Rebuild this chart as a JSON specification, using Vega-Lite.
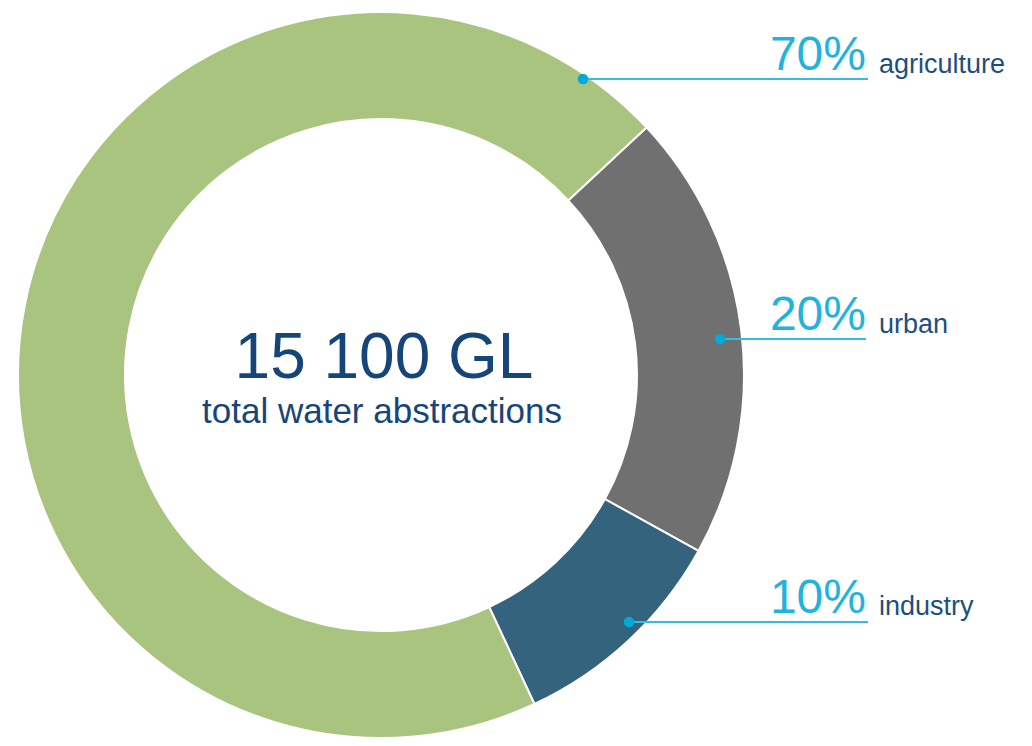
{
  "$schema": "https://vega.github.io/schema/vega-lite/v6.json",
  "width": 1032,
  "height": 746,
  "autosize": {"type": "fit", "contains": "padding"},
  "padding": 0,
  "background": "white",
  "view": {"stroke": null},
  "config": {"font": "Liberation Sans"},
  "datasets": {
    "slices": [
      {"use": "urban", "share": 20, "ord": 1, "cx": 381, "cy": 375},
      {"use": "industry", "share": 10, "ord": 2, "cx": 381, "cy": 375},
      {"use": "agriculture", "share": 70, "ord": 3, "cx": 381, "cy": 375}
    ],
    "labels": [
      {"use": "agriculture", "pct": "70%", "dotx": 583, "liney": 79, "lineend": 868, "pctx": 866, "pcty": 70, "namex": 879, "namey": 73},
      {"use": "urban", "pct": "20%", "dotx": 720, "liney": 339, "lineend": 866, "pctx": 866, "pcty": 330, "namex": 879, "namey": 333},
      {"use": "industry", "pct": "10%", "dotx": 629, "liney": 622, "lineend": 868, "pctx": 866, "pcty": 613, "namex": 879, "namey": 615}
    ],
    "center": [
      {"line": "15 100 GL", "tx": 384, "ty": 378, "kind": "big"},
      {"line": "total water abstractions", "tx": 382, "ty": 423, "kind": "small"}
    ]
  },
  "layer": [
    {
      "data": {"name": "slices"},
      "mark": {"type": "arc", "innerRadius": 256, "outerRadius": 363, "stroke": "white", "strokeWidth": 2},
      "encoding": {
        "theta": {"field": "share", "type": "quantitative", "stack": true, "scale": {"range": [0.8203, 7.1035]}},
        "order": {"field": "ord", "type": "quantitative"},
        "color": {"field": "use", "type": "nominal", "legend": null,
          "scale": {"domain": ["agriculture", "urban", "industry"], "range": ["#a9c47f", "#6f706f", "#33637d"]}},
        "x": {"field": "cx", "type": "quantitative", "scale": {"domain": [0, 1032], "nice": false, "zero": false}, "axis": null},
        "y": {"field": "cy", "type": "quantitative", "scale": {"domain": [0, 746], "nice": false, "zero": false, "reverse": true}, "axis": null}
      }
    },
    {
      "data": {"name": "labels"},
      "mark": {"type": "rule", "color": "#33bde0", "strokeWidth": 2},
      "encoding": {
        "x": {"field": "dotx", "type": "quantitative"},
        "x2": {"field": "lineend"},
        "y": {"field": "liney", "type": "quantitative"}
      }
    },
    {
      "data": {"name": "labels"},
      "mark": {"type": "circle", "color": "#00aad9", "opacity": 1, "size": 110},
      "encoding": {
        "x": {"field": "dotx", "type": "quantitative"},
        "y": {"field": "liney", "type": "quantitative"}
      }
    },
    {
      "data": {"name": "labels"},
      "mark": {"type": "text", "align": "right", "baseline": "alphabetic", "fontSize": 48, "color": "#1fb3de"},
      "encoding": {
        "x": {"field": "pctx", "type": "quantitative"},
        "y": {"field": "pcty", "type": "quantitative"},
        "text": {"field": "pct"}
      }
    },
    {
      "data": {"name": "labels"},
      "mark": {"type": "text", "align": "left", "baseline": "alphabetic", "fontSize": 27, "color": "#1d4f7e"},
      "encoding": {
        "x": {"field": "namex", "type": "quantitative"},
        "y": {"field": "namey", "type": "quantitative"},
        "text": {"field": "use"}
      }
    },
    {
      "data": {"name": "center"},
      "mark": {"type": "text", "align": "center", "baseline": "alphabetic", "color": "#164679"},
      "encoding": {
        "x": {"field": "tx", "type": "quantitative"},
        "y": {"field": "ty", "type": "quantitative"},
        "text": {"field": "line"},
        "size": {"field": "kind", "type": "nominal", "legend": null, "scale": {"domain": ["big", "small"], "range": [64, 35]}}
      }
    }
  ]
}
